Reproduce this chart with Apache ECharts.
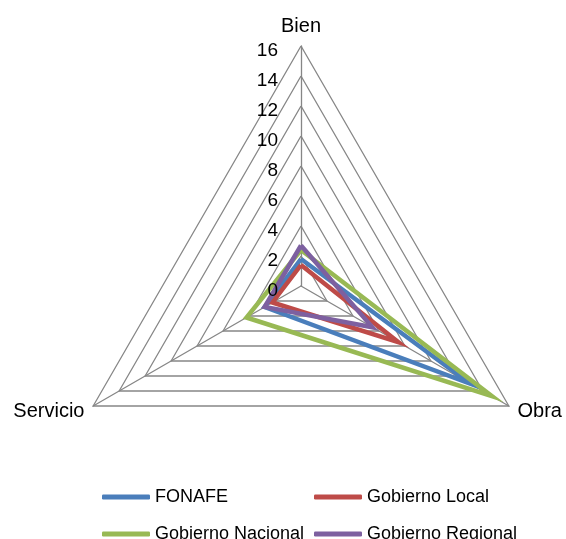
<!DOCTYPE html>
<html>
<head>
<meta charset="utf-8">
<script src="https://cdn.jsdelivr.net/npm/echarts@6/dist/echarts.min.js"></script>
<style>html,body{margin:0;padding:0;background:#fff}#c{width:566px;height:539px}</style>
</head>
<body>
<div id="c"></div>
<script>
var categories = ['Bien', 'Servicio', 'Obra'];
var seriesNames = ['FONAFE', 'Gobierno Local', 'Gobierno Nacional', 'Gobierno Regional'];
var fonafe = [1.8, 2.8, 13.0];
var gobiernoLocal = [1.4, 2.2, 7.5];
var gobiernoNacional = [2.4, 4.2, 14.7];
var gobiernoRegional = [2.7, 2.8, 5.5];
var axisMax = 16;
var colors = ['#4A7EBB', '#BE4B48', '#98B954', '#7D60A0'];

var values = [fonafe, gobiernoLocal, gobiernoNacional, gobiernoRegional];
var font = 'Liberation Sans, Arial, sans-serif';

var gridIndicator = categories.map(function (c) {
  return { name: c, max: axisMax, min: 0 };
});
var labelIndicator = categories.map(function (c, i) {
  var o = { name: c, max: axisMax, min: 0 };
  if (i === 0) {
    o.axisLabel = {
      show: true, showMinLabel: true, showMaxLabel: true, margin: 23,
      formatter: '{v|{value}}',
      rich: { v: { color: '#000', fontSize: 19, fontFamily: font, lineHeight: 28, verticalAlign: 'bottom' } }
    };
  }
  return o;
});

var legendPos = [[97, 483], [309, 483], [97, 520], [309, 520]];
var legends = seriesNames.map(function (n, i) {
  return {
    orient: 'horizontal', left: legendPos[i][0], top: legendPos[i][1],
    data: [n],
    icon: 'roundRect', itemWidth: 48, itemHeight: 5,
    textStyle: { color: '#000', fontSize: 18, fontFamily: font, lineHeight: 18 }
  };
});

var radarCommon = {
  center: [301, 286],
  radius: 240,
  startAngle: 90,
  shape: 'polygon',
  splitNumber: 8,
  nameGap: 10
};

var chart = echarts.init(document.getElementById('c'), null, { renderer: 'canvas' });
chart.setOption({
  animation: false,
  color: colors,
  legend: legends,
  radar: [
    Object.assign({}, radarCommon, {
      z: 0,
      axisName: { color: '#000', fontSize: 20, fontFamily: font },
      axisLine: { show: true, lineStyle: { color: '#868686', width: 1.3 } },
      splitLine: { show: true, lineStyle: { color: '#868686', width: 1.3 } },
      splitArea: { show: false },
      axisTick: { show: false },
      axisLabel: { show: false },
      indicator: gridIndicator
    }),
    Object.assign({}, radarCommon, {
      z: 10,
      axisName: { show: false },
      axisLine: { show: false },
      splitLine: { show: false },
      splitArea: { show: false },
      axisTick: { show: false },
      axisLabel: { show: false },
      indicator: labelIndicator
    })
  ],
  series: values.map(function (v, i) {
    return {
      type: 'radar',
      radarIndex: 0,
      name: seriesNames[i],
      symbol: 'none',
      lineStyle: { width: 4.5, color: colors[i], join: 'miter' },
      itemStyle: { color: colors[i] },
      data: [{ value: v, name: seriesNames[i] }]
    };
  })
});
</script>
</body>
</html>
